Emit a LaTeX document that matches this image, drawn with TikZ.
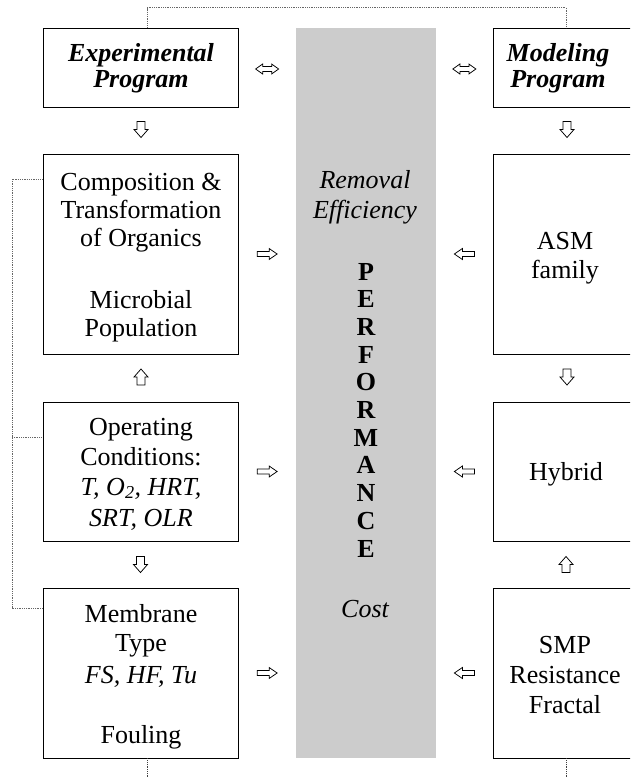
\documentclass[tikz,border=0pt]{standalone}
\usepackage{fontspec}
\setmainfont{Liberation Serif}
\usetikzlibrary{calc}
\definecolor{perfgray}{HTML}{CCCCCC}
\begin{document}
\begin{tikzpicture}[x=1pt,y=-1pt,
  box/.style={draw, line width=0.9pt, inner sep=0, minimum width=195pt},
  rbox/.style={draw, line width=0.9pt, inner sep=0, minimum width=144pt},
  txt/.style={anchor=base, inner sep=0, font=\fontsize{26}{28}\selectfont},
  itx/.style={txt, font=\fontsize{26}{28}\selectfont\itshape},
  bix/.style={txt, font=\fontsize{26}{28}\selectfont\bfseries\itshape},
  bfx/.style={txt, font=\fontsize{26}{28}\selectfont\bfseries},
  link/.style={draw=black!60, line width=0.6pt, dash pattern=on 1pt off 0.8pt},
  glyph/.style={draw, line width=0.75pt, fill=white, line join=miter},
  pics/harr/.style={code={\path[glyph] (-10,-2.5) -- (2,-2.5) -- (2,-5.5) -- (10,0) -- (2,5.5) -- (2,2.5) -- (-10,2.5) -- cycle;}},
  pics/varr/.style={code={\path[glyph] (-8,-4) -- (0,-4) -- (0,-7) -- (8,0) -- (0,7) -- (0,4) -- (-8,4) -- cycle;}},
  pics/lrarr/.style={code={\path[glyph] (-11.5,0) -- (-4.5,-5) -- (-4.5,-2.5) -- (4.5,-2.5) -- (4.5,-5) -- (11.5,0) -- (4.5,5) -- (4.5,2.5) -- (-4.5,2.5) -- (-4.5,5) -- cycle;}}
]
\useasboundingbox (0,0) rectangle (630,778);
\clip (0,0) rectangle (630,778);

% central performance column
\node[fill=perfgray, inner sep=0, minimum width=140pt, minimum height=730pt] (perf) at (366,393) {};

% boxes
\node[box, minimum height=79pt] (exp) at (140.5,67.5) {};
\node[rbox, minimum height=79pt] (mod) at (565,67.5) {};
\node[box, minimum height=200pt] (comp) at (140.5,254) {};
\node[box, minimum height=139pt] (op) at (140.5,471.5) {};
\node[box, minimum height=170pt] (mem) at (140.5,673) {};
\node[rbox, minimum height=200pt] (asm) at (565,254) {};
\node[rbox, minimum height=139pt] (hyb) at (565,471.5) {};
\node[rbox, minimum height=170pt] (smp) at (565,673) {};

% texts
\node[bix] (expa) at (141,62) {Experimental};
\node[bix] (expb) at (141,88) {Program};
\node[bix] (moda) at (558,62) {Modeling};
\node[bix] (modb) at (558,88) {Program};

\node[txt] (compa) at (141,190) {Composition \&};
\node[txt] (compb) at (141,218) {Transformation};
\node[txt] (compc) at (141,246) {of Organics};
\node[txt] (compd) at (141,308) {Microbial};
\node[txt] (compe) at (141,336) {Population};

\node[txt] (opa) at (141,435) {Operating};
\node[txt] (opb) at (141,465) {Conditions:};
\node[itx] (opc) at (141,495) {T, O\textsubscript{2}, HRT,};
\node[itx] (opd) at (141,526) {SRT, OLR};

\node[txt] (mema) at (141,622) {Membrane};
\node[txt] (memb) at (141,651) {Type};
\node[itx] (memc) at (141,683) {FS, HF, Tu};
\node[txt] (memd) at (141,743) {Fouling};

\node[txt] (asma) at (565,249) {ASM};
\node[txt] (asmb) at (565,278) {family};
\node[txt] (hyba) at (566,480) {Hybrid};
\node[txt] (smpa) at (565,653) {SMP};
\node[txt] (smpb) at (565,683) {Resistance};
\node[txt] (smpc) at (565,713) {Fractal};

\node[itx] (rema) at (365,188) {Removal};
\node[itx] (remb) at (365,218) {Efficiency};
\foreach \L [count=\i from 0] in {P,E,R,F,O,R,M,A,N,C,E}
  \node[bfx] (perf\i) at (366,280+27.7*\i) {\L};
\node[itx] (cost) at (365,617) {Cost};

% dotted links
\draw[link] ([xshift=6.5pt]exp.north) -- ++(0,-20) -| ([xshift=1pt]mod.north);
\coordinate (la) at (12,179);
\coordinate (lb) at (12,437);
\coordinate (lc) at (12,608);
\draw[link] (comp.west |- la) -- (la) -- (lc) -- (mem.west |- lc);
\draw[link] (lb) -- (op.west |- lb);
\coordinate (bl) at (147,782);
\coordinate (br) at (566,782);
\draw[link, draw=black!75] (mem.south -| bl) -- (bl);
\draw[link, draw=black!75] (smp.south -| br) -- (br);

% hollow arrows
\pic at ($(exp.east)!0.5!(exp.east -| perf.west)+(0,1.5)$) {lrarr};
\pic at ($(mod.west)!0.5!(mod.west -| perf.east)+(0,1.5)$) {lrarr};
\pic[rotate=-90] at ($(exp.south)!0.5!(comp.north)+(0.5,-1)$) {varr};
\pic[rotate=-90] at ($(mod.south)!0.5!(asm.north)+(2,-1)$) {varr};
\pic[rotate=90] at ($(comp.south)!0.5!(op.north)+(0.5,-1)$) {varr};
\pic[rotate=-90] at ($(op.south)!0.5!(mem.north)$) {varr};
\pic[rotate=-90] at ($(asm.south)!0.5!(hyb.north)+(2,-1)$) {varr};
\pic[rotate=90] at ($(hyb.south)!0.5!(smp.north)+(1,0)$) {varr};
\pic at ($(comp.east)!0.5!(comp.east -| perf.west)$) {harr};
\pic at ($(op.east)!0.5!(op.east -| perf.west)$) {harr};
\pic at ($(mem.east)!0.5!(mem.east -| perf.west)$) {harr};
\pic[rotate=180] at ($(asm.west)!0.5!(asm.west -| perf.east)$) {harr};
\pic[rotate=180] at ($(hyb.west)!0.5!(hyb.west -| perf.east)$) {harr};
\pic[rotate=180] at ($(smp.west)!0.5!(smp.west -| perf.east)$) {harr};
\end{tikzpicture}
\end{document}
